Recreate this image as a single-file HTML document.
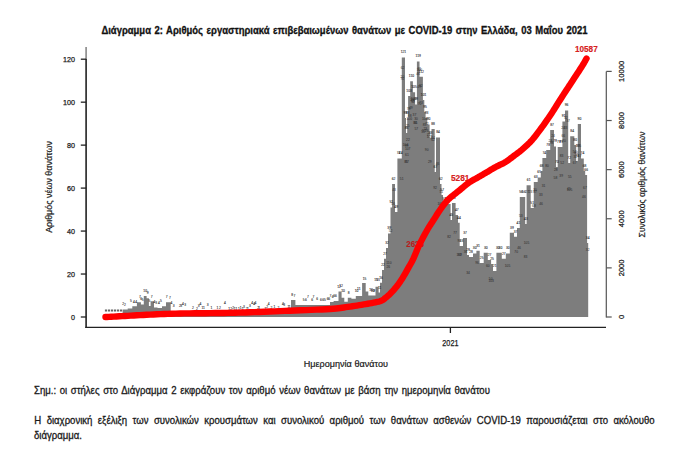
<!DOCTYPE html>
<html><head><meta charset="utf-8"><style>
html,body{margin:0;padding:0;background:#fff;}
body{width:699px;height:449px;overflow:hidden;position:relative;}
svg{position:absolute;left:0;top:0;}
text{font-family:"Liberation Sans",sans-serif;}
</style></head><body>
<svg width="699" height="449" viewBox="0 0 699 449">
<rect width="699" height="449" fill="#fff"/>
<text transform="translate(101.4,33.7) scale(0.92,1)" x="0" y="0" font-size="10.3" font-weight="bold" fill="#111" stroke="#111" stroke-width="0.3" word-spacing="1.01">Διάγραμμα 2: Αριθμός εργαστηριακά επιβεβαιωμένων θανάτων με COVID-19 στην Ελλάδα, 03 Μαΐου 2021</text>
<g fill="#7d7d7d"><path d="M122.60,317.0 L122.60,309.50 L127.70,309.50 L127.70,308.60 L132.30,308.60 L132.30,306.30 L136.90,306.30 L136.90,302.30 L140.90,302.30 L140.90,304.60 L143.80,304.60 L143.80,296.00 L146.60,296.00 L146.60,298.30 L148.90,298.30 L148.90,306.00 L150.60,306.00 L150.60,301.20 L154.00,301.20 L154.00,307.50 L157.50,307.50 L157.50,308.00 L162.00,308.00 L162.00,306.30 L166.00,306.30 L166.00,302.30 L170.70,302.30 L170.70,311.50 L190.00,311.50 L190.00,313.00 L230.00,313.00 L230.00,313.50 L270.00,313.50 L270.00,312.00 L291.00,312.00 L291.00,299.90 L295.40,299.90 L295.40,305.00 L330.00,305.00 L330.00,302.00 L333.60,302.00 L333.60,301.00 L338.50,301.00 L338.50,291.60 L341.60,291.60 L341.60,297.80 L344.30,297.80 L344.30,301.80 L347.80,301.80 L347.80,297.80 L351.40,297.80 L351.40,298.70 L355.80,298.70 L355.80,296.00 L362.10,296.00 L362.10,283.10 L365.70,283.10 L365.70,291.60 L368.30,291.60 L368.30,295.60 L375.50,295.60 L375.50,286.70 L378.60,286.70 L378.60,292.50 L380.00,292.50 L380.00,282.80 L382.00,282.80 L382.00,270.00 L384.00,270.00 L384.00,258.70 L386.00,258.70 L386.00,248.00 L388.00,248.00 L388.00,233.50 L390.50,233.50 L390.50,207.40 L392.10,207.40 L392.10,184.00 L395.00,184.00 L395.00,212.00 L397.40,212.00 L397.40,158.40 L401.80,158.40 L401.80,57.40 L405.00,57.40 L405.00,118.00 L406.00,118.00 L406.00,133.00 L407.20,133.00 L407.20,118.00 L408.10,118.00 L408.10,96.00 L410.20,96.00 L410.20,81.20 L412.90,81.20 L412.90,92.30 L415.10,92.30 L415.10,104.60 L416.90,104.60 L416.90,61.60 L419.50,61.60 L419.50,76.70 L422.90,76.70 L422.90,100.00 L424.30,100.00 L424.30,112.00 L425.60,112.00 L425.60,118.00 L427.30,118.00 L427.30,124.60 L429.60,124.60 L429.60,138.00 L431.50,138.00 L431.50,129.00 L434.70,129.00 L434.70,172.00 L436.00,172.00 L436.00,137.50 L440.00,137.50 L440.00,184.00 L441.50,184.00 L441.50,195.00 L443.00,195.00 L443.00,204.00 L450.60,204.00 L450.60,220.00 L452.00,220.00 L452.00,203.00 L455.60,203.00 L455.60,215.00 L458.00,215.00 L458.00,222.70 L459.70,222.70 L459.70,246.00 L463.00,246.00 L463.00,238.00 L467.00,238.00 L467.00,255.00 L469.00,255.00 L469.00,257.00 L473.00,257.00 L473.00,253.40 L476.40,253.40 L476.40,250.70 L479.70,250.70 L479.70,263.00 L483.70,263.00 L483.70,252.80 L487.80,252.80 L487.80,260.00 L491.10,260.00 L491.10,264.00 L493.00,264.00 L493.00,271.00 L496.40,271.00 L496.40,252.80 L501.80,252.80 L501.80,258.80 L505.80,258.80 L505.80,253.40 L509.80,253.40 L509.80,232.70 L514.00,232.70 L514.00,236.80 L517.00,236.80 L517.00,228.00 L519.80,228.00 L519.80,197.00 L525.20,197.00 L525.20,224.00 L526.60,224.00 L526.60,185.20 L530.70,185.20 L530.70,208.00 L533.80,208.00 L533.80,182.00 L537.70,182.00 L537.70,177.50 L540.80,177.50 L540.80,171.00 L542.40,171.00 L542.40,158.00 L546.20,158.00 L546.20,150.00 L550.20,150.00 L550.20,130.00 L554.00,130.00 L554.00,146.50 L556.00,146.50 L556.00,167.00 L557.70,167.00 L557.70,147.00 L562.40,147.00 L562.40,121.50 L565.00,121.50 L565.00,110.60 L568.20,110.60 L568.20,163.00 L570.20,163.00 L570.20,136.30 L574.30,136.30 L574.30,145.00 L576.20,145.00 L576.20,161.00 L577.80,161.00 L577.80,123.90 L581.00,123.90 L581.00,158.40 L583.80,158.40 L583.80,171.00 L585.20,171.00 L585.20,175.00 L587.10,175.00 L587.10,243.00 L588.20,243.00 L588.20,317.0 Z"/></g>
<line x1="104.9" y1="310.6" x2="122.6" y2="310.6" stroke="#666" stroke-width="2" stroke-dasharray="2.2 0.8"/>
<g font-size="3.3" fill="#262626" stroke="#262626" stroke-width="0.08" text-anchor="middle"><text x="123.1" y="305.0">2</text><text x="125.0" y="306.4">2</text><text x="130.9" y="301.8">5</text><text x="133.9" y="302.6">4</text><text x="136.2" y="302.6">4</text><text x="139.9" y="298.3">7</text><text x="141.2" y="300.1">6</text><text x="142.6" y="301.0">5</text><text x="145.2" y="291.7">10</text><text x="147.6" y="294.3">9</text><text x="149.5" y="302.2">5</text><text x="151.7" y="297.6">7</text><text x="154.5" y="303.1">4</text><text x="156.2" y="304.1">3</text><text x="159.0" y="303.9">4</text><text x="160.9" y="301.8">5</text><text x="166.7" y="298.4">7</text><text x="169.8" y="298.5">7</text><text x="171.5" y="304.4">4</text><text x="173.6" y="307.2">3</text><text x="179.8" y="307.2">2</text><text x="181.1" y="307.3">3</text><text x="183.0" y="305.4">4</text><text x="185.1" y="306.2">3</text><text x="192.9" y="308.6">2</text><text x="196.8" y="309.6">2</text><text x="198.6" y="307.0">3</text><text x="200.4" y="305.1">4</text><text x="202.3" y="309.2">1</text><text x="204.0" y="309.1">1</text><text x="207.7" y="306.2">3</text><text x="211.4" y="309.4">1</text><text x="217.5" y="308.6">1</text><text x="220.0" y="308.9">2</text><text x="225.0" y="304.1">4</text><text x="229.1" y="309.5">1</text><text x="231.2" y="309.7">2</text><text x="233.1" y="308.9">2</text><text x="234.6" y="309.8">1</text><text x="236.5" y="309.9">1</text><text x="238.8" y="310.2">1</text><text x="240.7" y="309.2">1</text><text x="242.6" y="310.2">1</text><text x="244.0" y="307.5">3</text><text x="246.6" y="309.6">2</text><text x="247.8" y="309.7">1</text><text x="250.0" y="307.3">3</text><text x="252.1" y="303.9">4</text><text x="254.2" y="305.0">4</text><text x="255.4" y="304.3">4</text><text x="258.1" y="308.8">2</text><text x="259.1" y="309.2">1</text><text x="265.5" y="309.9">1</text><text x="267.1" y="308.4">2</text><text x="268.6" y="304.8">4</text><text x="271.4" y="309.0">2</text><text x="274.3" y="307.9">1</text><text x="278.4" y="308.7">2</text><text x="282.8" y="304.7">4</text><text x="284.2" y="306.2">3</text><text x="288.5" y="308.4">1</text><text x="289.7" y="308.2">1</text><text x="292.2" y="296.3">8</text><text x="294.3" y="296.7">7</text><text x="303.6" y="301.1">5</text><text x="306.0" y="300.6">6</text><text x="307.9" y="298.2">7</text><text x="312.1" y="301.0">6</text><text x="313.4" y="297.6">7</text><text x="317.1" y="300.2">6</text><text x="321.0" y="301.0">6</text><text x="323.1" y="300.9">6</text><text x="324.9" y="301.0">5</text><text x="327.6" y="299.8">6</text><text x="329.1" y="300.2">6</text><text x="330.5" y="297.4">7</text><text x="332.6" y="298.0">6</text><text x="334.2" y="296.6">6</text><text x="335.8" y="296.5">6</text><text x="339.0" y="287.9">12</text><text x="341.0" y="287.3">12</text><text x="343.0" y="292.0">10</text><text x="348.6" y="293.6">8</text><text x="356.6" y="292.3">10</text><text x="358.8" y="290.3">11</text><text x="364.5" y="280.1">15</text><text x="371.1" y="291.4">10</text><text x="372.5" y="292.2">10</text><text x="374.1" y="292.2">9</text><text x="376.0" y="280.6">15</text><text x="378.0" y="281.2">15</text><text x="379.7" y="289.0">11</text><text x="381.0" y="278.6">16</text><text x="383.0" y="265.8">22</text><text x="385.0" y="254.5">27</text><text x="387.0" y="243.8">32</text><text x="389.2" y="229.3">39</text><text x="391.3" y="203.2">51</text><text x="393.6" y="179.8">62</text><text x="396.2" y="207.8">49</text><text x="398.5" y="154.2">74</text><text x="400.7" y="154.2">74</text><text x="403.4" y="53.2">121</text><text x="405.5" y="113.8">93</text><text x="406.6" y="128.8">86</text><text x="407.6" y="113.8">93</text><text x="409.1" y="91.8">103</text><text x="411.5" y="77.0">110</text><text x="414.0" y="88.1">105</text><text x="416.0" y="100.4">99</text><text x="418.2" y="57.4">119</text><text x="421.2" y="72.5">112</text><text x="423.6" y="95.8">101</text><text x="425.0" y="107.8">95</text><text x="426.5" y="113.8">93</text><text x="428.5" y="120.4">90</text><text x="430.6" y="133.8">83</text><text x="433.1" y="124.8">88</text><text x="435.4" y="167.8">67</text><text x="438.0" y="133.3">84</text><text x="440.8" y="179.8">62</text><text x="442.2" y="190.8">57</text><text x="444.3" y="199.8">53</text><text x="446.8" y="199.8">53</text><text x="449.3" y="199.8">53</text><text x="451.3" y="215.8">45</text><text x="453.8" y="198.8">53</text><text x="456.8" y="210.8">47</text><text x="458.9" y="218.5">44</text><text x="461.4" y="241.8">33</text><text x="465.0" y="233.8">37</text><text x="468.0" y="250.8">29</text><text x="471.0" y="252.8">28</text><text x="474.7" y="249.2">30</text><text x="478.0" y="246.5">31</text><text x="481.7" y="258.8">25</text><text x="485.8" y="248.6">30</text><text x="489.5" y="255.8">27</text><text x="492.1" y="259.8">25</text><text x="494.7" y="266.8">21</text><text x="497.8" y="248.6">30</text><text x="500.4" y="248.6">30</text><text x="503.8" y="254.6">27</text><text x="507.8" y="249.2">30</text><text x="511.9" y="228.5">39</text><text x="515.5" y="232.6">37</text><text x="518.4" y="223.8">41</text><text x="521.1" y="192.8">56</text><text x="523.9" y="192.8">56</text><text x="525.9" y="219.8">43</text><text x="528.7" y="181.0">61</text><text x="532.2" y="203.8">51</text><text x="535.8" y="177.8">63</text><text x="539.2" y="173.3">65</text><text x="541.6" y="166.8">68</text><text x="544.3" y="153.8">74</text><text x="548.2" y="145.8">78</text><text x="552.1" y="125.8">87</text><text x="555.0" y="142.3">79</text><text x="556.9" y="162.8">70</text><text x="558.9" y="142.8">79</text><text x="561.2" y="142.8">79</text><text x="563.7" y="117.3">91</text><text x="566.6" y="106.4">96</text><text x="569.2" y="158.8">72</text><text x="572.2" y="132.1">84</text><text x="575.2" y="140.8">80</text><text x="577.0" y="156.8">73</text><text x="579.4" y="119.7">90</text><text x="582.4" y="154.2">74</text><text x="584.5" y="166.8">68</text><text x="586.2" y="170.8">66</text><text x="587.7" y="238.8">34</text></g><g font-size="3.3" fill="#2a2a2a" text-anchor="middle"><text x="388.9" y="263.6">110</text><text x="388.3" y="268.2">26</text><text x="390.5" y="231.5">52</text><text x="393.2" y="204.7">56</text><text x="394.1" y="191.3">43</text><text x="401.7" y="180.3">51</text><text x="402.5" y="68.7">62</text><text x="402.4" y="78.0">20</text><text x="402.3" y="80.4">70</text><text x="405.5" y="145.8">104</text><text x="406.9" y="156.3">61</text><text x="406.6" y="147.2">99</text><text x="406.1" y="163.2">85</text><text x="406.9" y="162.6">37</text><text x="407.9" y="140.5">22</text><text x="407.7" y="149.9">107</text><text x="407.8" y="126.5">25</text><text x="409.3" y="120.2">100</text><text x="408.6" y="109.6">78</text><text x="409.7" y="116.6">88</text><text x="412.2" y="100.9">29</text><text x="410.8" y="109.1">49</text><text x="412.8" y="101.5">68</text><text x="413.5" y="99.7">100</text><text x="413.1" y="102.6">52</text><text x="414.4" y="116.3">37</text><text x="416.3" y="130.2">57</text><text x="415.6" y="124.1">35</text><text x="416.1" y="119.6">30</text><text x="415.1" y="123.9">84</text><text x="418.1" y="75.4">46</text><text x="419.3" y="69.8">31</text><text x="419.4" y="71.4">100</text><text x="419.2" y="88.0">49</text><text x="420.8" y="87.3">82</text><text x="420.9" y="103.8">73</text><text x="419.5" y="104.5">70</text><text x="423.9" y="132.1">57</text><text x="423.0" y="132.8">55</text><text x="424.7" y="119.5">104</text><text x="424.6" y="125.7">85</text><text x="425.3" y="130.4">23</text><text x="426.7" y="150.5">90</text><text x="426.8" y="125.4">72</text><text x="426.7" y="132.3">26</text><text x="428.6" y="135.6">73</text><text x="429.5" y="138.1">103</text><text x="429.8" y="162.7">29</text><text x="433.1" y="141.4">62</text><text x="432.9" y="139.0">44</text><text x="435.1" y="188.7">92</text><text x="437.5" y="165.1">46</text><text x="440.2" y="204.6">100</text><text x="441.3" y="192.7">51</text><text x="442.1" y="210.0">22</text><text x="449.1" y="238.1">82</text><text x="455.0" y="233.8">77</text><text x="459.2" y="256.0">109</text><text x="459.3" y="242.0">90</text><text x="459.7" y="255.6">92</text><text x="465.6" y="252.8">36</text><text x="468.1" y="273.7">34</text><text x="477.0" y="264.3">96</text><text x="487.8" y="266.9">60</text><text x="490.7" y="279.8">50</text><text x="491.2" y="281.9">103</text><text x="507.5" y="266.9">105</text><text x="516.2" y="253.3">70</text><text x="519.1" y="248.6">46</text><text x="520.8" y="216.5">53</text><text x="525.6" y="257.6">83</text><text x="526.5" y="244.1">105</text><text x="530.4" y="192.8">23</text><text x="527.2" y="192.7">27</text><text x="535.0" y="191.3">30</text><text x="535.1" y="193.4">87</text><text x="533.9" y="207.3">68</text><text x="540.8" y="196.3">33</text><text x="541.0" y="205.0">46</text><text x="543.6" y="187.3">31</text><text x="547.0" y="166.6">80</text><text x="553.1" y="137.2">24</text><text x="550.4" y="141.7">28</text><text x="551.5" y="143.9">98</text><text x="555.4" y="179.3">58</text><text x="555.8" y="170.9">28</text><text x="562.2" y="164.2">52</text><text x="561.5" y="156.8">83</text><text x="561.2" y="176.9">39</text><text x="563.3" y="136.8">66</text><text x="563.9" y="142.3">70</text><text x="563.0" y="129.4">24</text><text x="565.5" y="129.0">33</text><text x="565.8" y="119.0">32</text><text x="568.1" y="121.6">37</text><text x="569.5" y="190.7">105</text><text x="569.8" y="177.5">55</text><text x="568.9" y="190.4">45</text><text x="574.7" y="152.9">52</text><text x="575.3" y="157.7">32</text><text x="576.2" y="154.0">80</text><text x="574.7" y="164.0">67</text><text x="579.7" y="156.9">67</text><text x="578.4" y="147.4">105</text><text x="578.1" y="147.2">99</text><text x="583.9" y="198.2">46</text><text x="584.9" y="188.9">67</text><text x="587.7" y="250.8">32</text></g>
<text x="574.9" y="51.7" font-size="8.8" font-weight="bold" fill="#d62020" stroke="#d62020" stroke-width="0.15" textLength="22.8" lengthAdjust="spacingAndGlyphs">10587</text>
<text x="450.9" y="181.4" font-size="8.8" font-weight="bold" fill="#d62020" stroke="#d62020" stroke-width="0.15" textLength="18.6" lengthAdjust="spacingAndGlyphs">5281</text>
<text x="406.2" y="246.9" font-size="8.8" font-weight="bold" fill="#b81c1c" stroke="#b81c1c" stroke-width="0.15" textLength="17.8" lengthAdjust="spacingAndGlyphs">2628</text>
<path d="M105.50,317.00 L106.97,316.93 L108.88,316.83 L111.14,316.72 L113.69,316.59 L116.43,316.45 L119.28,316.30 L122.17,316.15 L125.00,316.00 L127.83,315.84 L130.75,315.67 L133.75,315.49 L136.84,315.31 L140.02,315.12 L143.27,314.94 L146.60,314.76 L150.00,314.60 L153.44,314.44 L156.91,314.29 L160.44,314.14 L164.06,313.99 L167.80,313.86 L171.68,313.73 L175.74,313.61 L180.00,313.50 L184.59,313.41 L189.53,313.34 L194.71,313.28 L200.00,313.23 L205.29,313.18 L210.47,313.12 L215.41,313.07 L220.00,313.00 L224.16,312.93 L227.97,312.86 L231.54,312.79 L235.00,312.72 L238.46,312.64 L242.03,312.54 L245.84,312.43 L250.00,312.30 L254.52,312.14 L259.30,311.97 L264.27,311.77 L269.38,311.56 L274.56,311.35 L279.77,311.13 L284.93,310.91 L290.00,310.70 L295.15,310.50 L300.52,310.29 L305.98,310.09 L311.39,309.88 L316.63,309.67 L321.56,309.46 L326.06,309.23 L330.00,309.00 L333.29,308.76 L336.01,308.52 L338.30,308.27 L340.28,308.02 L342.09,307.76 L343.86,307.48 L345.72,307.20 L347.80,306.90 L350.06,306.58 L352.35,306.25 L354.66,305.91 L356.97,305.55 L359.25,305.19 L361.48,304.82 L363.63,304.46 L365.70,304.10 L367.72,303.75 L369.73,303.39 L371.71,303.04 L373.62,302.69 L375.43,302.33 L377.12,301.96 L378.65,301.59 L380.00,301.20 L381.12,300.81 L382.01,300.42 L382.74,300.03 L383.35,299.63 L383.89,299.21 L384.41,298.77 L384.96,298.30 L385.60,297.80 L386.29,297.26 L386.98,296.70 L387.67,296.10 L388.35,295.49 L389.03,294.85 L389.72,294.19 L390.41,293.50 L391.10,292.80 L391.80,292.08 L392.49,291.34 L393.19,290.57 L393.89,289.79 L394.60,288.98 L395.30,288.15 L396.00,287.29 L396.70,286.40 L397.40,285.49 L398.10,284.55 L398.80,283.58 L399.51,282.59 L400.21,281.58 L400.91,280.54 L401.60,279.48 L402.30,278.40 L402.99,277.29 L403.68,276.15 L404.37,274.98 L405.05,273.79 L405.73,272.59 L406.42,271.37 L407.11,270.14 L407.80,268.90 L408.50,267.67 L409.19,266.45 L409.89,265.22 L410.59,263.98 L411.30,262.70 L412.00,261.39 L412.70,260.03 L413.40,258.60 L414.08,257.11 L414.74,255.58 L415.39,254.00 L416.04,252.38 L416.71,250.71 L417.42,249.01 L418.18,247.27 L419.00,245.50 L419.91,243.64 L420.91,241.66 L421.97,239.62 L423.06,237.55 L424.15,235.51 L425.22,233.54 L426.25,231.69 L427.20,230.00 L428.08,228.50 L428.90,227.14 L429.69,225.89 L430.46,224.71 L431.21,223.58 L431.96,222.46 L432.72,221.31 L433.50,220.10 L434.29,218.85 L435.08,217.59 L435.87,216.32 L436.66,215.06 L437.46,213.79 L438.28,212.52 L439.12,211.26 L440.00,210.00 L440.89,208.74 L441.79,207.47 L442.70,206.20 L443.63,204.93 L444.60,203.67 L445.61,202.43 L446.67,201.20 L447.80,200.00 L449.01,198.82 L450.30,197.66 L451.65,196.52 L453.04,195.39 L454.45,194.28 L455.86,193.18 L457.25,192.08 L458.60,191.00 L459.92,189.91 L461.24,188.80 L462.56,187.70 L463.87,186.61 L465.16,185.55 L466.44,184.54 L467.68,183.58 L468.90,182.70 L470.08,181.90 L471.22,181.18 L472.34,180.52 L473.44,179.91 L474.52,179.31 L475.61,178.73 L476.70,178.13 L477.80,177.50 L478.91,176.85 L480.02,176.20 L481.13,175.55 L482.24,174.91 L483.36,174.26 L484.47,173.61 L485.58,172.95 L486.70,172.30 L487.82,171.64 L488.94,170.97 L490.05,170.29 L491.17,169.62 L492.30,168.95 L493.43,168.29 L494.56,167.63 L495.70,167.00 L496.85,166.40 L498.01,165.82 L499.18,165.27 L500.36,164.72 L501.53,164.16 L502.70,163.58 L503.85,162.96 L505.00,162.30 L506.13,161.59 L507.25,160.83 L508.36,160.05 L509.47,159.24 L510.57,158.42 L511.68,157.58 L512.79,156.74 L513.90,155.90 L515.02,155.06 L516.15,154.23 L517.27,153.39 L518.40,152.54 L519.53,151.67 L520.65,150.78 L521.78,149.86 L522.90,148.90 L524.02,147.92 L525.12,146.94 L526.23,145.93 L527.34,144.90 L528.44,143.83 L529.56,142.71 L530.67,141.54 L531.80,140.30 L532.93,138.99 L534.07,137.61 L535.21,136.18 L536.36,134.71 L537.51,133.19 L538.67,131.64 L539.83,130.08 L541.00,128.50 L542.18,126.90 L543.36,125.27 L544.55,123.61 L545.75,121.92 L546.95,120.21 L548.14,118.49 L549.32,116.75 L550.50,115.00 L551.68,113.21 L552.87,111.36 L554.06,109.48 L555.25,107.59 L556.42,105.73 L557.55,103.90 L558.65,102.15 L559.70,100.50 L560.70,98.94 L561.66,97.44 L562.59,96.00 L563.48,94.61 L564.35,93.27 L565.19,91.98 L566.00,90.72 L566.80,89.50 L567.53,88.38 L568.18,87.41 L568.78,86.51 L569.36,85.64 L569.97,84.73 L570.64,83.73 L571.40,82.57 L572.30,81.20 L573.38,79.54 L574.64,77.61 L576.01,75.51 L577.44,73.32 L578.85,71.15 L580.19,69.07 L581.39,67.19 L582.40,65.60 L583.23,64.26 L583.94,63.06 L584.56,62.00 L585.08,61.07 L585.53,60.27 L585.90,59.58 L586.22,58.99 L586.50,58.50" fill="none" stroke="#ff0000" stroke-width="6.4" stroke-linecap="round" stroke-linejoin="round"/>
<line x1="86.1" y1="47" x2="86.1" y2="59" stroke="#888" stroke-width="1.6"/>
<line x1="86.1" y1="59" x2="86.1" y2="327.9" stroke="#222" stroke-width="1.6"/>
<g stroke="#222" stroke-width="1.3"><line x1="80.8" y1="317.00" x2="86.2" y2="317.00"/><line x1="80.8" y1="274.03" x2="86.2" y2="274.03"/><line x1="80.8" y1="231.07" x2="86.2" y2="231.07"/><line x1="80.8" y1="188.10" x2="86.2" y2="188.10"/><line x1="80.8" y1="145.13" x2="86.2" y2="145.13"/><line x1="80.8" y1="102.17" x2="86.2" y2="102.17"/><line x1="80.8" y1="59.20" x2="86.2" y2="59.20"/></g>
<line x1="85.3" y1="327.3" x2="606" y2="327.3" stroke="#222" stroke-width="1.3"/>
<line x1="450.4" y1="327.3" x2="450.4" y2="333" stroke="#222" stroke-width="1.3"/>
<line x1="606.3" y1="71.4" x2="606.3" y2="317.6" stroke="#555" stroke-width="1.2"/>
<g stroke="#555" stroke-width="1.2"><line x1="606.3" y1="317.00" x2="611.7" y2="317.00"/><line x1="606.3" y1="267.88" x2="611.7" y2="267.88"/><line x1="606.3" y1="218.76" x2="611.7" y2="218.76"/><line x1="606.3" y1="169.64" x2="611.7" y2="169.64"/><line x1="606.3" y1="120.52" x2="611.7" y2="120.52"/><line x1="606.3" y1="71.40" x2="611.7" y2="71.40"/></g>
<g font-size="7.6" fill="#1a1a1a" stroke="#1a1a1a" stroke-width="0.25"><text x="75" y="319.70" text-anchor="end" textLength="4.0" lengthAdjust="spacingAndGlyphs">0</text><text x="75" y="276.73" text-anchor="end" textLength="8.0" lengthAdjust="spacingAndGlyphs">20</text><text x="75" y="233.77" text-anchor="end" textLength="8.0" lengthAdjust="spacingAndGlyphs">40</text><text x="75" y="190.80" text-anchor="end" textLength="8.0" lengthAdjust="spacingAndGlyphs">60</text><text x="75" y="147.83" text-anchor="end" textLength="8.0" lengthAdjust="spacingAndGlyphs">80</text><text x="75" y="104.87" text-anchor="end" textLength="12.0" lengthAdjust="spacingAndGlyphs">100</text><text x="75" y="61.90" text-anchor="end" textLength="12.0" lengthAdjust="spacingAndGlyphs">120</text></g>
<g font-size="7.6" fill="#1a1a1a" stroke="#1a1a1a" stroke-width="0.25"><text transform="translate(623.9,317.00) rotate(-90)" text-anchor="middle" textLength="4.2" lengthAdjust="spacingAndGlyphs">0</text><text transform="translate(623.9,267.88) rotate(-90)" text-anchor="middle" textLength="16.8" lengthAdjust="spacingAndGlyphs">2000</text><text transform="translate(623.9,218.76) rotate(-90)" text-anchor="middle" textLength="16.8" lengthAdjust="spacingAndGlyphs">4000</text><text transform="translate(623.9,169.64) rotate(-90)" text-anchor="middle" textLength="16.8" lengthAdjust="spacingAndGlyphs">6000</text><text transform="translate(623.9,120.52) rotate(-90)" text-anchor="middle" textLength="16.8" lengthAdjust="spacingAndGlyphs">8000</text><text transform="translate(623.9,71.40) rotate(-90)" text-anchor="middle" textLength="21.0" lengthAdjust="spacingAndGlyphs">10000</text></g>
<text x="450.4" y="346.2" font-size="8.6" fill="#1a1a1a" stroke="#1a1a1a" stroke-width="0.25" text-anchor="middle" textLength="16.1" lengthAdjust="spacingAndGlyphs">2021</text>
<text transform="translate(51.8,187) rotate(-90)" font-size="8.4" fill="#1a1a1a" stroke="#1a1a1a" stroke-width="0.2" text-anchor="middle" textLength="91.7" lengthAdjust="spacingAndGlyphs">Αριθμός νέων θανάτων</text>
<text transform="translate(644.6,184.5) rotate(-90)" font-size="8.4" fill="#1a1a1a" stroke="#1a1a1a" stroke-width="0.2" text-anchor="middle" textLength="105.8" lengthAdjust="spacingAndGlyphs">Συνολικός αριθμός θανάτων</text>
<text x="303.8" y="366.8" font-size="8.6" fill="#1a1a1a" stroke="#1a1a1a" stroke-width="0.2" textLength="84.1" lengthAdjust="spacingAndGlyphs">Ημερομηνία θανάτου</text>
<text transform="translate(34.0,394.2) scale(0.94,1)" x="0" y="0" font-size="10.2" font-weight="normal" fill="#1a1a1a" stroke="#1a1a1a" stroke-width="0.3" word-spacing="1.07">Σημ.: οι στήλες στο Διάγραμμα 2 εκφράζουν τον αριθμό νέων θανάτων με βάση την ημερομηνία θανάτου</text><text transform="translate(34.3,424.1) scale(0.94,1)" x="0" y="0" font-size="10.2" font-weight="normal" fill="#1a1a1a" stroke="#1a1a1a" stroke-width="0.3" word-spacing="2.95">Η διαχρονική εξέλιξη των συνολικών κρουσμάτων και συνολικού αριθμού των θανάτων ασθενών COVID-19 παρουσιάζεται στο ακόλουθο</text><text transform="translate(34.0,438.6) scale(0.94,1)" font-size="10.2" fill="#1a1a1a" stroke="#1a1a1a" stroke-width="0.3">διάγραμμα.</text>
</svg>
</body></html>
